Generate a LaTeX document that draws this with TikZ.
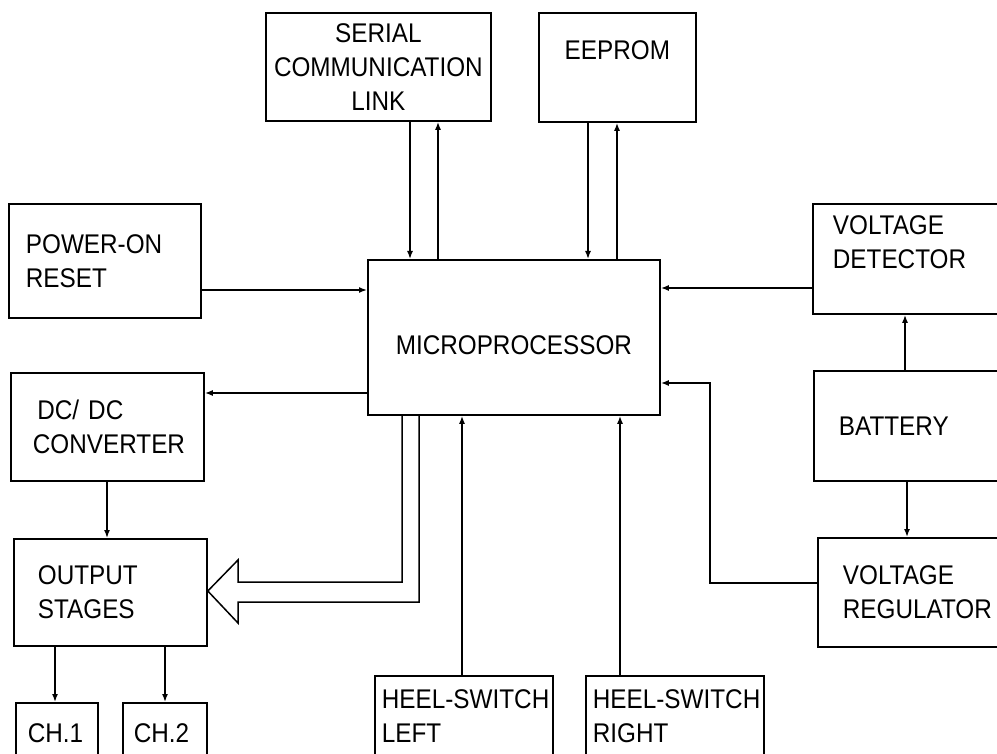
\documentclass[tikz,border=0pt]{standalone}
\usepackage{fontspec}
\setmainfont{Liberation Sans}[FakeStretch=0.9]
\usepackage{tikz}
\usetikzlibrary{arrows.meta,positioning}
\newcommand\boxfont{\fontsize{27}{34}\selectfont\hyphenpenalty=10000 \exhyphenpenalty=10000 }
\begin{document}
\begin{tikzpicture}[x=1pt, y=-1pt,
  box/.style={draw, line width=1.8pt, anchor=north west, inner ysep=0pt, align=left, font=\boxfont},
  arr/.style={-{Latex[length=8pt,width=6pt]}, line width=1.5pt},
  hollow/.style={line width=1.5pt, line join=miter}]
\useasboundingbox (0,0) rectangle (997,754);
\clip (0,0) rectangle (997,754);
\fill[white] (0,0) rectangle (997,754);
% top row
\node[box, minimum width=225pt, minimum height=108pt, align=center] (serial) at (265,12) {SERIAL\\COMMUNICATION\\LINK};
\node[box, minimum width=157pt, minimum height=109pt, align=center] (eeprom) at (538,12) {EEPROM\\\rule{0pt}{0pt}};
% centre
\node[box, minimum width=292pt, minimum height=155pt, align=center, text height=35pt, text depth=0pt] (micro) at (367,259) {MICROPROCESSOR};
% left column
\node[box, minimum width=192pt, minimum height=114pt, inner xsep=17pt, text width=158pt] (reset) at (8,203) {POWER-ON\\RESET};
\node[box, minimum width=193pt, minimum height=108pt, inner xsep=22pt, text width=149pt] (dcdc) at (10,372) {\,DC/ DC\\CONVERTER};
\node[box, minimum width=193pt, minimum height=107pt, inner xsep=24pt, text width=145pt] (out) at (13,538) {OUTPUT\\STAGES};
\node[box, minimum width=82pt, minimum height=60pt, inner xsep=12pt, text width=58pt] (ch1) at (15,702) {CH.1};
\node[box, minimum width=84pt, minimum height=60pt, inner xsep=11pt, text width=62pt] (ch2) at (122,702) {CH.2};
% bottom row
\node[box, minimum width=178pt, minimum height=81pt, inner xsep=7pt, text width=164pt] (heelL) at (374,675) {HEEL-SWITCH\\LEFT};
\node[box, minimum width=178pt, minimum height=81pt, inner xsep=7pt, text width=164pt] (heelR) at (585,675) {HEEL-SWITCH\\RIGHT};
% right column, running off the page edge
\node[box, minimum width=200pt, minimum height=110pt, inner xsep=20pt, text width=160pt] (det) at (812,203) {VOLTAGE\\DETECTOR\\\rule{0pt}{0pt}};
\node[box, minimum width=200pt, minimum height=110pt, inner xsep=25pt, text width=150pt] (bat) at (813,370) {BATTERY};
\node[box, minimum width=200pt, minimum height=109pt, inner xsep=25pt, text width=150pt] (reg) at (817,537) {VOLTAGE\\REGULATOR};
% connectors
\draw[arr] (410,0 |- serial.south) -- (410,0 |- micro.north);
\draw[arr] (438,0 |- micro.north) -- (438,0 |- serial.south);
\draw[arr] (588,0 |- eeprom.south) -- (588,0 |- micro.north);
\draw[arr] (617,0 |- micro.north) -- (617,0 |- eeprom.south);
\draw[arr] (reset.east |- 0,290) -- (micro.west |- 0,290);
\draw[arr] (det.west |- 0,288) -- (micro.east |- 0,288);
\draw[arr] (905,0 |- bat.north) -- (905,0 |- det.south);
\draw[arr] (907,0 |- bat.south) -- (907,0 |- reg.north);
\draw[arr] (reg.west |- 0,583) -| (710,383) -- (micro.east |- 0,383);
\draw[arr] (462,0 |- heelL.north) -- (462,0 |- micro.south);
\draw[arr] (620,0 |- heelR.north) -- (620,0 |- micro.south);
\draw[arr] (micro.west |- 0,393) -- (dcdc.east |- 0,393);
\draw[arr] (107,0 |- dcdc.south) -- (107,0 |- out.north);
\draw[arr] (55,0 |- out.south) -- (55,0 |- ch1.north);
\draw[arr] (165,0 |- out.south) -- (165,0 |- ch2.north);
% wide data path to the output stages
\draw[hollow] (402,0 |- micro.south) -- (402,582) -- (238,582) -- (238,560) -- (out.east |- 0,591) -- (238,623) -- (238,602) -- (419,602) -- (419,0 |- micro.south);
\end{tikzpicture}
\end{document}
